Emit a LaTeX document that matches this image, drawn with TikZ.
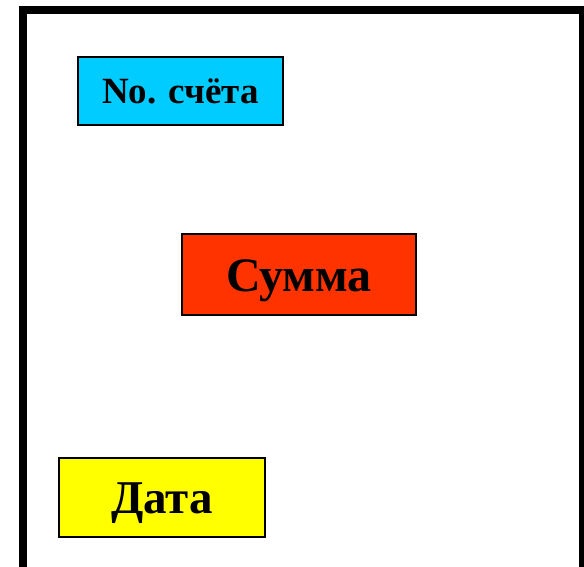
\documentclass[tikz,border=0pt]{standalone}
\usepackage{fontspec}
\setmainfont{Liberation Serif}
\usetikzlibrary{positioning}

\tikzset{
  field/.style={draw=black,line width=1.6pt,rectangle,inner sep=0pt,
    font=\bfseries,text depth=0pt,align=center},
}
\definecolor{fieldblue}{RGB}{0,204,255}
\definecolor{fieldred}{RGB}{255,51,0}
\definecolor{fieldyellow}{RGB}{255,255,0}

\begin{document}
\begin{tikzpicture}[x=1pt,y=-1pt]
	\useasboundingbox (0,0) rectangle (584,566);
	\draw[line width=8pt] (23,10) rectangle (583,620);
	\node[field,fill=fieldblue,minimum width=205pt,minimum height=68pt,text height=24pt] (acct) at (180.5,91) {\fontsize{37}{40}\selectfont No. счёта};
	\node[field,fill=fieldred,minimum width=234pt,minimum height=81pt,text height=33pt] (summa) at (299,274.5) {\fontsize{48}{52}\selectfont Сумма};
	\node[field,fill=fieldyellow,minimum width=206pt,minimum height=79pt,text height=31pt] (data) at (162,497.5) {\fontsize{47}{50}\selectfont Дата};
\end{tikzpicture}
\end{document}
